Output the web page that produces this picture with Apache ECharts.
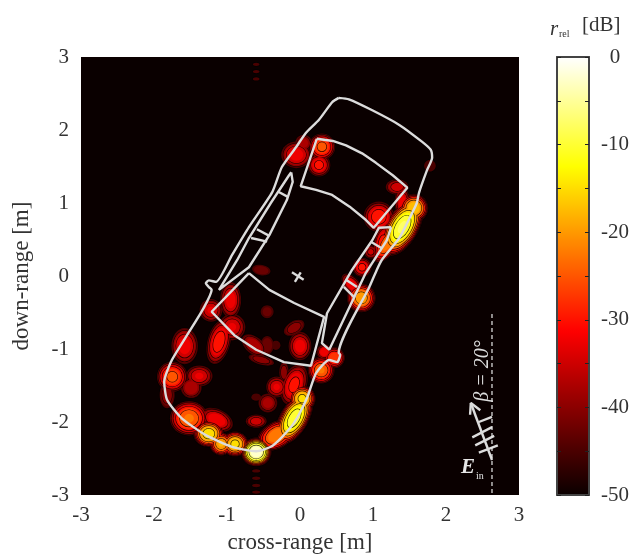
<!DOCTYPE html>
<html><head><meta charset="utf-8">
<script src="https://cdn.jsdelivr.net/npm/echarts@6/dist/echarts.min.js"></script>
<style>html,body{margin:0;background:#fff}#c{width:644px;height:554px}</style></head>
<body><div id="c"></div>
<script>
const axisTicks = [-3,-2,-1,0,1,2,3];
const colorbarTicks = [0,-10,-20,-30,-40,-50];
const colorStops = ['#0a0000','#5a0000','#ab0000','#ff0000','#ff5500','#ffaa00','#ffff00','#ffff80','#ffffff'];
const contourStep = 2.5;
// scattering centres: x[m], y[m], radiusA[m], radiusB[m], tilt[deg], peak[dB]
const hotspots = [
[-.60,-2.41,.16,.15,0,0],[-.08,-1.95,.30,.15,60,-8],[.03,-1.68,.14,.14,0,-14],[-.32,-2.18,.22,.14,30,-20],
[-1.25,-2.16,.16,.14,0,-13],[-1.52,-1.95,.2,.18,0,-22],[-1.08,-2.30,.12,.12,0,-17],[-.89,-2.30,.14,.13,0,-14],
[-1.14,-1.97,.18,.11,-25,-30],[-1.75,-1.38,.16,.16,0,-24],[-1.38,-1.37,.14,.11,0,-32],[-1.49,-1.53,.11,.11,0,-35],
[-1.82,-1.63,.08,.14,0,-38],[-1.58,-.96,.14,.19,0,-31],[-1.11,-.90,.24,.12,75,-28],[-.32,-1.52,.11,.11,0,-32],
[-.08,-1.49,.22,.13,70,-29],[-.44,-1.74,.10,.10,0,-36],[-.60,-1.99,.11,.07,0,-33],[-.60,-1.66,.055,.04,0,-43],
[.29,-1.29,.14,.14,0,-22],[.47,-1.12,.11,.11,0,-25],[.33,-1.04,.08,.08,0,-30],[0,-.96,.12,.15,0,-31],
[-.95,-.33,.11,.19,0,-31],[-1.22,-.47,.12,.12,0,-32],[-.93,-.70,.14,.14,0,-32],[-.08,-.71,.12,.07,30,-38],
[-.45,-.95,.07,.10,0,-40],[-.45,-.49,.07,.07,0,-41],[-.63,-.95,.15,.09,-40,-35],[-.53,-1.15,.14,.05,-15,-38],
[-.22,-1.32,.05,.11,0,-38],[-.33,-.95,.055,.055,0,-44],
[.30,1.77,.14,.14,0,-24],[.26,1.52,.12,.12,0,-29],[-.05,1.66,.16,.14,0,-31],[.05,1.82,.09,.09,0,-36],
[1.33,1.22,.12,.08,0,-33],[1.40,1.01,.08,.16,0,-31],[1.56,.93,.15,.15,0,-15],[1.40,.67,.33,.17,60,-7],
[1.08,.81,.16,.16,0,-28],[1.12,.47,.19,.08,75,-29],[1.22,.47,.25,.11,55,-20],[.97,.33,.07,.07,0,-34],
[.85,.12,.10,.10,0,-29],[.84,-.30,.15,.15,0,-18],[.71,-.12,.14,.08,-50,-30],[-.53,.08,.10,.055,-10,-40],
[1.78,1.51,.07,.07,0,-44],
[-.60,-2.67,.05,.02,0,-44],[-.60,-2.77,.05,.02,0,-44],[-.60,-2.87,.05,.02,0,-44],[-.60,-2.96,.05,.02,0,-44],
[-.60,2.9,.04,.02,0,-44],[-.60,2.8,.04,.02,0,-44],[-.60,2.7,.04,.02,0,-44]
];
const bodyOutline = [[.53,2.44],[.67,2.42],[.99,2.27],[1.36,2.07],[1.67,1.84],[1.79,1.73],[1.81,1.62],[1.74,1.45],[1.63,1.14],[1.60,1.0],[1.49,.77],[1.36,.52],[1.12,.22],[1.05,.08],[.95,-.15],[.53,-1.05],[.55,-1.08],[.51,-1.18],[.40,-1.15],[.22,-1.33],[.10,-1.66],[-.08,-2.01],[-.25,-2.21],[-.40,-2.34],[-.60,-2.40],[-.93,-2.34],[-1.29,-2.18],[-1.62,-1.95],[-1.82,-1.70],[-1.86,-1.45],[-1.77,-1.18],[-1.59,-.88],[-1.32,-.44],[-1.21,-.19],[-1.25,-.15],[-1.29,-.10],[-1.25,-.06],[-1.15,-.08],[-.93,.29],[-.70,.67],[-.38,1.15],[-.25,1.49],[-.05,1.77],[.08,1.96],[.26,2.14],[.44,2.38],[.53,2.44]];
const windshield = [[.23,1.88],[.45,1.85],[.63,1.79],[.85,1.68],[1.04,1.55],[1.27,1.38],[1.47,1.21],[1.01,.66],[.90,.77],[.68,.95],[.44,1.11],[.22,1.18],[.01,1.23],[.23,1.88]];
const rearWindow = [[-.70,.04],[-.42,-.19],[-.08,-.37],[.33,-.56],[.15,-1.23],[-.22,-1.18],[-.60,-1.01],[-.90,-.81],[-1.21,-.49],[-.70,.04]];
const leftWindow = [[-.12,1.42],[-.10,1.29],[-.18,1.04],[-.42,.56],[-.70,.12],[-1.11,-.19],[-.86,.22],[-.70,.52],[-.40,1.0],[-.15,1.38],[-.12,1.42]];
const rightWindow = [[1.25,.67],[1.08,.66],[.99,.49],[.71,.08],[.37,-.51],[.30,-.92],[.40,-1.01],[.90,.04],[.99,.18],[1.19,.49],[1.25,.67]];
const strokes = [
 [[-.29,1.15],[-.16,1.08]],[[-.59,.64],[-.42,.55]],[[-.67,.52],[-.45,.47]],
 [[.97,.47],[1.12,.38]],[[.63,-.05],[.78,-.15]],[[.60,-.15],[.75,-.30]],
 [[-.11,.05],[.05,-.05]],[[.01,.05],[-.07,-.08]],
 [[2.63,-2.52],[2.34,-1.74]],[[2.33,-1.90],[2.34,-1.74],[2.47,-1.84]],
 [[2.36,-2.21],[2.63,-2.07]],[[2.40,-2.32],[2.66,-2.19]],[[2.45,-2.42],[2.71,-2.32]],[[2.45,-2.0],[2.63,-1.93]]
];
const incidenceLine = [[2.63,-.52],[2.63,-3]];

// contour layers: for each level, dark rims first, then the fills over them, so blobs merge
const layers = [];
for (let L = -45; L < 0.01; L += contourStep) {
  const rims = [], fills = [];
  hotspots.forEach(s => {
    const [x,y,a,b,t,p] = s;
    if (L >= p && L !== -45) return;
    const k = 1.32 * Math.pow(Math.max(p - L, .5) / (p + 45.5), .36);
    const item = [x,y,a*k,b*k,t,L];
    if (Math.round((L+45)/contourStep) % 2 === 0) rims.push(item.concat(0));
    fills.push(item.concat(1));
  });
  layers.push(...rims, ...fills);
}

const lineStyle = {color:'#dcdcdc', width:2.4};
const outline = (d, extra) => Object.assign({type:'line', data:d, xAxisIndex:0, yAxisIndex:0, symbol:'none', silent:true, animation:false, lineStyle, z:5}, extra||{});
const textCol = '#333';
const serif = '"Liberation Serif", serif';

const chart = echarts.init(document.getElementById('c'), null, {renderer:'canvas'});
chart.setOption({
  animation:false,
  backgroundColor:'#fff',
  grid:[
    {left:81,top:57,width:438,height:438,show:true,backgroundColor:'#0a0000',borderWidth:0,outerBoundsMode:'none',containLabel:false},
    {left:557,top:57,width:32,height:438,show:false,outerBoundsMode:'none',containLabel:false}
  ],
  xAxis:[
    {gridIndex:0,type:'value',min:-3,max:3,interval:1,splitLine:{show:false},axisTick:{show:false},axisLine:{show:false},
     axisLabel:{fontFamily:serif,fontSize:21,color:textCol,margin:10,customValues:axisTicks},
     name:'cross-range [m]',nameLocation:'middle',nameGap:36,nameTextStyle:{fontFamily:serif,fontSize:23,color:textCol}},
    {gridIndex:1,type:'value',min:0,max:1,position:'top',z:10,splitLine:{show:false},axisTick:{show:false},axisLabel:{show:false},axisLine:{show:true,onZero:false,lineStyle:{color:'#444',width:2}}},
    {gridIndex:1,type:'value',min:0,max:1,position:'bottom',z:10,splitLine:{show:false},axisTick:{show:false},axisLabel:{show:false},axisLine:{show:true,onZero:false,lineStyle:{color:'#444',width:2}}}
  ],
  yAxis:[
    {gridIndex:0,type:'value',min:-3,max:3,interval:1,splitLine:{show:false},axisTick:{show:false},axisLine:{show:false},
     axisLabel:{fontFamily:serif,fontSize:21,color:textCol,margin:12,customValues:axisTicks},
     name:'down-range [m]',nameLocation:'middle',nameGap:48,nameTextStyle:{fontFamily:serif,fontSize:23,color:textCol}},
    {gridIndex:1,type:'value',min:-50,max:0,interval:5,position:'left',z:10,splitLine:{show:false},axisLabel:{show:false},
     axisTick:{inside:true,length:4,lineStyle:{color:'#222',width:1}},axisLine:{show:true,onZero:false,lineStyle:{color:'#444',width:2}}},
    {gridIndex:1,type:'value',min:-50,max:0,interval:5,position:'right',z:10,splitLine:{show:false},
     axisLabel:{fontFamily:serif,fontSize:21,color:textCol,margin:26,align:'center',
       formatter:v=>colorbarTicks.includes(v)?String(v):''},
     axisTick:{inside:true,length:4,lineStyle:{color:'#222',width:1}},axisLine:{show:true,onZero:false,lineStyle:{color:'#444',width:2}}}
  ],
  visualMap:{type:'continuous',min:-50,max:0,dimension:5,seriesIndex:0,left:557,top:57,itemWidth:32,itemHeight:438,padding:0,
    calculable:false,realtime:false,showLabel:false,text:null,hoverLink:false,
    inRange:{color:colorStops}},
  series:[
    {type:'custom',xAxisIndex:0,yAxisIndex:0,progressive:0,silent:true,clip:true,animation:false,z:2,
     encode:{x:0,y:1},data:layers,
     renderItem:(params,api)=>{
       const c = api.coord([api.value(0),api.value(1)]);
       const sz = api.size([api.value(2),api.value(3)]);
       const rim = api.value(6)===0;
       return {type:'ellipse',x:c[0],y:c[1],rotation:api.value(4)*Math.PI/180,
         shape:{cx:0,cy:0,rx:sz[0],ry:sz[1]},
         style: rim ? {fill:'none',stroke:'#000',lineWidth:1.4,opacity:.8}
                    : {fill:api.visual('color'),stroke:null}};
     }},
    outline(bodyOutline,{smooth:.2}),
    outline(windshield),outline(rearWindow),outline(leftWindow),outline(rightWindow),
    ...strokes.map(s=>outline(s)),
    outline(incidenceLine,{lineStyle:{color:'#e8e8e8',width:1.2,type:[4,3]}})
  ],
  graphic:[
    {type:'text',x:550,y:19,z:20,style:{text:'r',font:'italic 21px '+serif,fill:textCol}},
    {type:'text',x:559,y:29,z:20,style:{text:'rel',font:'10px '+serif,fill:textCol}},
    {type:'text',x:582,y:15,z:20,style:{text:'[dB]',font:'21px '+serif,fill:textCol}},
    {type:'text',x:461,y:457,z:20,style:{text:'E',font:'italic bold 21px '+serif,fill:'#e8e8e8'}},
    {type:'text',x:476,y:471,z:20,style:{text:'in',font:'10px '+serif,fill:'#e8e8e8'}},
    {type:'text',x:483,y:371,z:20,rotation:Math.PI/2,style:{text:'β = 20°',font:'italic 20px '+serif,fill:'#dcdcdc',align:'center',verticalAlign:'middle'}}
  ]
});
</script></body></html>
